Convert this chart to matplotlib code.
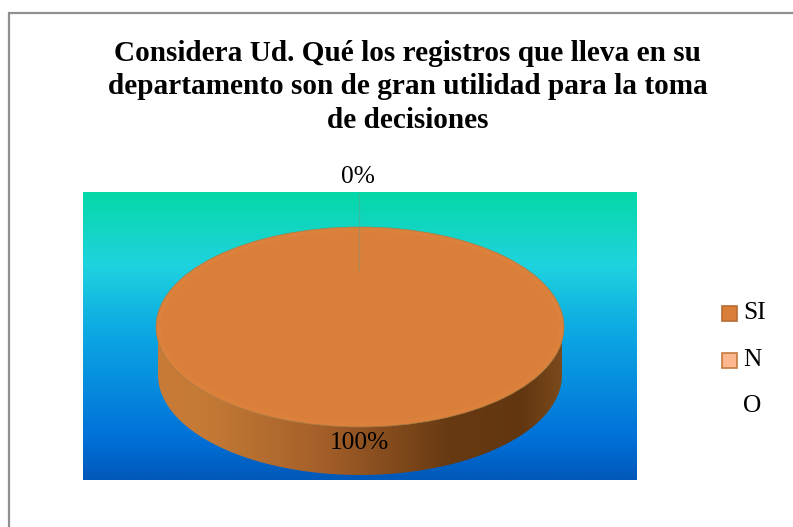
import numpy as np
import matplotlib
matplotlib.use("Agg")
import matplotlib.pyplot as plt
from matplotlib.colors import LinearSegmentedColormap
from matplotlib.patches import Rectangle, Polygon, Ellipse

plt.rcParams["font.family"] = ["Liberation Serif", "DejaVu Serif"]

# Chart content
title_lines = [
    "Considera Ud. Qué los registros que lleva en su",
    "departamento son de gran utilidad para la toma",
    "de decisiones",
]
categories = ["SI", "NO"]
shares = [100, 0]
slice_colors = ["#d97f3a", "#fdb78f"]
legend_edges = ["#b96c30", "#c27a40"]

W, H = 793, 527
fig = plt.figure(figsize=(W / 100, H / 100), dpi=100, facecolor="white")

# Canvas axes measured in pixels, origin at the top left
canvas = fig.add_axes([0, 0, 1, 1])
canvas.set_xlim(0, W)
canvas.set_ylim(H, 0)
canvas.axis("off")

# Outer frame: only the top and left sides are visible
canvas.plot([9, 9, W], [H, 13, 13], color="#8f8f8f", lw=1.6, solid_joinstyle="miter", zorder=1)

# Plot background with a vertical gradient
bg_left, bg_right, bg_top, bg_bottom = 83, 637, 192, 480
bg_cmap = LinearSegmentedColormap.from_list(
    "plot_bg",
    [(0.0, "#05d8a8"), (0.25, "#1fd3de"), (0.5, "#0ba6e3"),
     (0.86, "#0070d8"), (1.0, "#0058b8")],
)
canvas.imshow(np.linspace(0, 1, 256)[:, None], cmap=bg_cmap, aspect="auto",
              extent=(bg_left, bg_right, bg_bottom, bg_top), zorder=2)

# Ellipse geometry of the tilted disc
cx, cy, rx, ry = 360, 327, 204, 100
wall_rx, wall_cy = 202, 375

# Side wall of the disc, shaded from left to right
wall_cmap = LinearSegmentedColormap.from_list(
    "wall",
    [(0.0, "#c87b36"), (0.12, "#c47a35"), (0.4, "#a5602a"),
     (0.72, "#683a12"), (0.9, "#62360f"), (1.0, "#7a4a1c")],
)
wall_img = canvas.imshow(np.linspace(0, 1, 256)[None, :], cmap=wall_cmap, aspect="auto",
                         extent=(cx - wall_rx, cx + wall_rx, wall_cy + ry, cy - ry), zorder=3)
t = np.linspace(0, np.pi, 200)
wall_outline = np.r_[
    np.c_[cx + wall_rx * np.cos(t), wall_cy + ry * np.sin(t)],
    np.c_[cx - wall_rx * np.cos(t), np.full_like(t, cy)],
]
wall_clip = Polygon(wall_outline, closed=True, transform=canvas.transData,
                    facecolor="none", edgecolor="none")
canvas.add_patch(wall_clip)
wall_img.set_clip_path(wall_clip)
canvas.set_xlim(0, W)
canvas.set_ylim(H, 0)

# Top face of the disc, a pie squeezed into an ellipse by its own axes
pie_ax = fig.add_axes([(cx - rx) / W, 1 - (cy + ry) / H, 2 * rx / W, 2 * ry / H])
pie_ax.patch.set_alpha(0)
wedges, _ = pie_ax.pie(shares, colors=slice_colors, startangle=90, counterclock=False, radius=1,
                       wedgeprops={"linewidth": 0})
pie_ax.set_aspect("auto")
pie_ax.set_xlim(-1, 1)
pie_ax.set_ylim(-1, 1)
pie_ax.axis("off")
for wedge in wedges:
    wedge.set_clip_on(False)

# Overlay for everything drawn above the disc
top = fig.add_axes([0, 0, 1, 1])
top.set_xlim(0, W)
top.set_ylim(H, 0)
top.axis("off")
top.patch.set_alpha(0)

# Faint bevel and thin dark rim around the top face
top.add_patch(Ellipse((cx, cy), 2 * rx - 6, 2 * ry - 6, facecolor="none",
                      edgecolor="#e0863e", lw=3, alpha=0.35))
top.add_patch(Ellipse((cx, cy), 2 * rx, 2 * ry, facecolor="none",
                      edgecolor="#a67f48", lw=0.5))

# Faint leader line from the 0% label to the disc
top.plot([359, 359], [194, 270], color="#6f9a80", lw=0.9, alpha=0.45)

# Title lines
for line, baseline in zip(title_lines, [61, 94, 128]):
    top.text(407.5, baseline, line, ha="center", va="baseline",
             fontsize=21.1, fontweight="bold", color="black")

# Percentage labels
top.text(358, 183, f"{shares[1]}%", ha="center", va="baseline", fontsize=18.3, color="black")
top.text(359, 449, f"{shares[0]}%", ha="center", va="baseline", fontsize=18.3, color="black")

# Legend, with the long label wrapped letter by letter
for y0, face, edge in zip([306, 353], slice_colors, legend_edges):
    top.add_patch(Rectangle((722, y0), 15, 15, facecolor=face, edgecolor=edge, lw=1.2))
legend_rows = [categories[0], categories[1][0], categories[1][1]]
for label, baseline in zip(legend_rows, [319, 366, 412]):
    top.text(743, baseline, label, ha="left", va="baseline", fontsize=18.3, color="black")

fig.savefig("out.png", dpi=100)
